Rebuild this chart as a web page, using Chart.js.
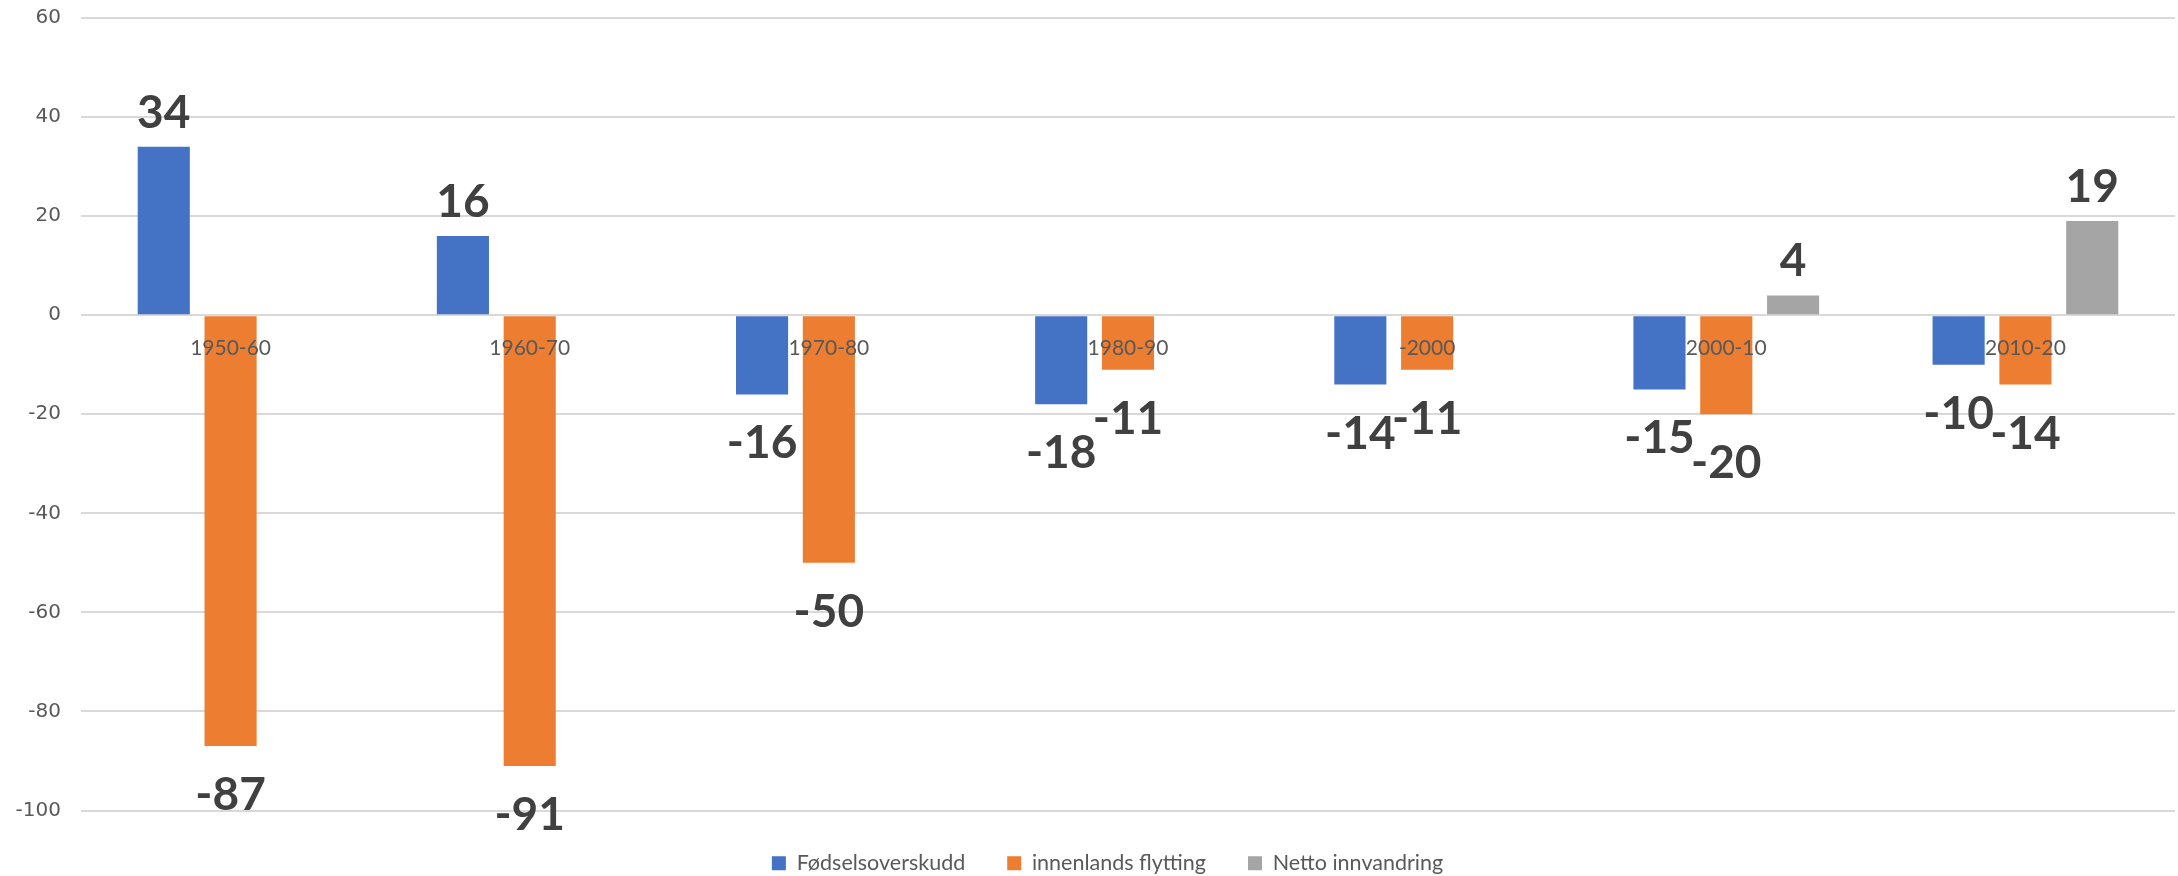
<!DOCTYPE html>
<html lang="no">
<head>
    <meta charset="UTF-8" />
    <title>Befolkningsendring</title>
    <style>
        html, body { margin: 0; padding: 0; background: #fff; }
    </style>
    <script src="https://cdn.jsdelivr.net/npm/chart.js"></script>
</head>
<body>
    <canvas id="chart" width="2178" height="876"></canvas>

    <script>
        // data
        const periods = ['1950-60', '1960-70', '1970-80', '1980-90', '-2000', '2000-10', '2010-20'];
        const fodselsoverskudd = [34, 16, -16, -18, -14, -15, -10];
        const innenlandsFlytting = [-87, -91, -50, -11, -11, -20, -14];
        const nettoInnvandring = [null, null, null, null, null, 4, 19];
        const yTicks = [60, 40, 20, 0, -20, -40, -60, -80, -100];

        // big bold value labels above/below each bar,
        // plus the period names drawn over the bars just under the zero line (like Excel does)
        const overlayLabels = {
            id: 'overlayLabels',
            afterLayout(chart) {
                // legend sits a bit right of the canvas centre in the original
                chart.legend.left += 20;
                chart.legend.right += 20;
            },
            afterDatasetsDraw(chart) {
                const ctx = chart.ctx;
                const xs = chart.scales.x;
                const y0 = chart.scales.y.getPixelForValue(0);
                ctx.save();
                ctx.textAlign = 'center';

                ctx.font = '21px Lato, sans-serif';
                ctx.fillStyle = '#595959';
                ctx.textBaseline = 'middle';
                chart.data.labels.forEach((lbl, i) => {
                    ctx.fillText(lbl, xs.getPixelForTick(i), y0 + 33);
                });

                ctx.font = 'bold 46px Lato, "Liberation Sans", sans-serif';
                ctx.fillStyle = '#404040';
                ctx.textBaseline = 'alphabetic';
                chart.data.datasets.forEach((ds, i) => {
                    const meta = chart.getDatasetMeta(i);
                    meta.data.forEach((bar, j) => {
                        const v = ds.data[j];
                        if (v === null || v === undefined) return;
                        const y = v >= 0 ? bar.y - 19 : bar.y + 64;
                        ctx.fillText(String(v), bar.x, y);
                    });
                });
                ctx.restore();
            }
        };

        const ctx = document.getElementById('chart').getContext('2d');

        new Chart(ctx, {
            type: 'bar',
            data: {
                labels: periods,
                datasets: [
                    { label: 'Fødselsoverskudd', data: fodselsoverskudd, backgroundColor: '#4472C4' },
                    { label: 'innenlands flytting', data: innenlandsFlytting, backgroundColor: '#ED7D31' },
                    { label: 'Netto innvandring', data: nettoInnvandring, backgroundColor: '#A5A5A5' }
                ]
            },
            options: {
                responsive: false,
                animation: false,
                categoryPercentage: 0.67,
                barPercentage: 0.78,
                layout: { padding: { top: 18, right: 3, left: 0, bottom: -8 } },
                plugins: {
                    legend: {
                        position: 'bottom',
                        labels: {
                            font: { family: 'Lato, sans-serif', size: 21.5 },
                            color: '#595959',
                            boxWidth: 14,
                            boxHeight: 14,
                            padding: 42
                        }
                    },
                    tooltip: { enabled: false }
                },
                scales: {
                    x: {
                        position: { y: 0 },
                        grid: { display: false, drawTicks: false },
                        border: { display: false },
                        ticks: { display: false }
                    },
                    y: {
                        min: -100,
                        max: 60,
                        afterBuildTicks: (scale) => {
                            scale.ticks = yTicks.map(v => ({ value: v }));
                        },
                        afterFit: (scale) => {
                            scale.width = 81;
                            scale.paddingTop = 0;
                        },
                        grid: { color: '#d9d9d9', lineWidth: 2, drawTicks: false },
                        border: { display: false },
                        ticks: {
                            font: { family: '"DejaVu Sans", sans-serif', size: 20 },
                            color: '#595959',
                            padding: 20
                        }
                    }
                }
            },
            plugins: [overlayLabels]
        });
    </script>
</body>
</html>
